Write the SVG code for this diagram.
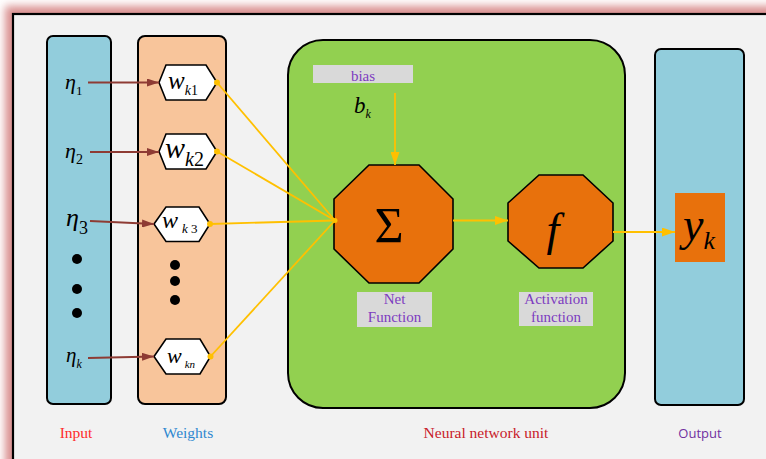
<svg xmlns="http://www.w3.org/2000/svg" width="766" height="459" viewBox="0 0 766 459">
  <defs>
    <filter id="glow" x="-10%" y="-10%" width="120%" height="120%">
      <feGaussianBlur stdDeviation="4"/>
    </filter>
    <marker id="arrBrown" markerWidth="12" markerHeight="8" refX="12" refY="4" orient="auto" markerUnits="userSpaceOnUse">
      <path d="M0,0 L12,4 L0,8 Z" fill="#8e3b34"/>
    </marker>
    <marker id="arrGold" markerWidth="13" markerHeight="9" refX="13" refY="4.5" orient="auto" markerUnits="userSpaceOnUse">
      <path d="M0,0 L13,4.5 L0,9 Z" fill="#ffc000"/>
    </marker>
  </defs>
  <style>
    .col { stroke: #000; stroke-width: 2; }
    .blue { fill: #92cddc; }
    .peach { fill: #f8c59b; }
    .hex { fill: #fff; stroke: #000; stroke-width: 1.6; }
    .oct { fill: #e8710c; stroke: #000; stroke-width: 1.6; }
    .tag { fill: #d9d9d9; }
    .math { font-family: "Liberation Serif", "DejaVu Serif", serif; font-style: italic; fill: #000; }
    .lbl { font-family: "Liberation Serif", "DejaVu Serif", serif; font-size: 15px; fill: #7d3cc0; text-anchor: middle; }
    .cap { font-family: "Liberation Serif", "DejaVu Serif", serif; font-size: 15.5px; text-anchor: middle; }
    .brown { stroke: #8e3b34; stroke-width: 1.8; fill: none; marker-end: url(#arrBrown); }
    .gold { stroke: #ffc000; stroke-width: 1.8; fill: none; }
    .dot { fill: #000; }
  </style>

  <!-- page background and framed panel with soft pink glow -->
  <rect x="0" y="0" width="766" height="459" fill="#ffffff"/>
  <rect x="5" y="6" width="780" height="480" fill="#d98f8f" filter="url(#glow)"/>
  <rect x="13" y="14" width="770" height="470" fill="#f2f2f2" stroke="#000" stroke-width="2.2"/>

  <!-- input column -->
  <g id="input">
    <rect class="col blue" x="47" y="36" width="64" height="368" rx="6"/>
    <text class="math" x="65" y="89" font-size="22">η<tspan font-size="13" font-style="normal" dy="6">1</tspan></text>
    <text class="math" x="65" y="158" font-size="22">η<tspan font-size="14" font-style="normal" dy="6">2</tspan></text>
    <text class="math" x="66" y="226" font-size="26">η<tspan font-size="18" font-style="normal" dy="8">3</tspan></text>
    <circle class="dot" cx="77" cy="259" r="5"/>
    <circle class="dot" cx="77" cy="289" r="5"/>
    <circle class="dot" cx="77" cy="313" r="5"/>
    <text class="math" x="66" y="362" font-size="21">η<tspan font-size="12" dy="6">k</tspan></text>
  </g>

  <!-- weights column -->
  <g id="weights">
    <rect class="col peach" x="138" y="36" width="88" height="368" rx="7"/>
    <circle class="dot" cx="175" cy="265" r="5"/>
    <circle class="dot" cx="175" cy="281" r="5"/>
    <circle class="dot" cx="175" cy="300" r="5"/>
  </g>
  <g id="w1">
    <polygon class="hex" points="159,82.5 166,65 206,65 217,82.5 206,100 166,100"/>
    <text class="math" x="168" y="89" font-size="25">w<tspan font-size="14" dy="6">k</tspan><tspan font-size="14" font-style="normal">1</tspan></text>
  </g>
  <g id="w2">
    <polygon class="hex" points="159,151.5 166,134 206,134 217,151.5 206,169 166,169"/>
    <text class="math" x="165" y="158" font-size="30">w<tspan font-size="20" dy="8">k</tspan><tspan font-size="20" font-style="normal">2</tspan></text>
  </g>
  <g id="w3">
    <polygon class="hex" points="154,224 166,207 199,207 210,224 199,241.5 166,241.5"/>
    <text class="math" x="162" y="228" font-size="24">w<tspan font-size="13" dx="4" dy="5">k</tspan><tspan font-size="13" font-style="normal"> 3</tspan></text>
  </g>
  <g id="wn">
    <polygon class="hex" points="154,356.5 166,339 200,339 210.5,356.5 200,374 166,374"/>
    <text class="math" x="167" y="363" font-size="22">w<tspan font-size="11" dx="3" dy="5">kn</tspan></text>
  </g>

  <!-- neural network unit -->
  <g id="unit">
    <rect class="col" x="288" y="40" width="337" height="368" rx="35" fill="#92d050"/>
  </g>
  <g id="bias">
    <rect class="tag" x="313" y="65" width="100" height="18"/>
    <text class="lbl" x="363" y="81">bias</text>
    <text class="math" x="354" y="113" font-size="23">b<tspan font-size="12" dy="5">k</tspan></text>
  </g>
  <g id="net-function">
    <polygon class="oct" points="369,165 419,165 453,199 453,249 419,283 369,283 334,249 334,199"/>
    <text x="389" y="242" font-family="'Liberation Serif', 'DejaVu Serif', serif" font-size="50" text-anchor="middle">Σ</text>
    <rect class="tag" x="357" y="292" width="75" height="35"/>
    <text class="lbl" x="394.5" y="304">Net</text>
    <text class="lbl" x="394.5" y="322">Function</text>
  </g>
  <g id="activation">
    <polygon class="oct" points="539,175 583,175 613,203 613,241 583,268 539,268 508,241 508,203"/>
    <text class="math" x="553" y="245" font-size="46" text-anchor="middle">f</text>
    <rect class="tag" x="519" y="292" width="74" height="34"/>
    <text class="lbl" x="556" y="304">Activation</text>
    <text class="lbl" x="556" y="322">function</text>
  </g>

  <!-- output column -->
  <g id="output">
    <rect class="col blue" x="655" y="49" width="89" height="356" rx="6"/>
    <rect x="675" y="193" width="50" height="69" fill="#e8710c"/>
    <text class="math" x="683" y="240" font-size="46">y<tspan font-size="26" dy="9">k</tspan></text>
  </g>

  <!-- connectors -->
  <g id="connectors">
    <line class="brown" x1="88" y1="82.5" x2="159" y2="82.5"/>
    <line class="brown" x1="90" y1="152" x2="159" y2="152"/>
    <line class="brown" x1="90" y1="221" x2="154" y2="224"/>
    <line class="brown" x1="88" y1="358" x2="154" y2="356.5"/>
    <line class="gold" x1="217" y1="82.5" x2="335" y2="220.5"/>
    <line class="gold" x1="217" y1="151.5" x2="335" y2="220.5"/>
    <line class="gold" x1="210" y1="224" x2="335" y2="220.5"/>
    <line class="gold" x1="210.5" y1="356.5" x2="335" y2="220.5"/>
    <circle cx="217" cy="82.5" r="3" fill="#ffc000"/>
    <circle cx="217" cy="151.5" r="3" fill="#ffc000"/>
    <circle cx="210" cy="224" r="3" fill="#ffc000"/>
    <circle cx="210.5" cy="356.5" r="3" fill="#ffc000"/>
    <circle cx="335" cy="220.5" r="2.5" fill="#ffc000"/>
    <line class="gold" x1="395" y1="93" x2="395" y2="165" marker-end="url(#arrGold)"/>
    <line class="gold" x1="453" y1="220.5" x2="508" y2="220.5" marker-end="url(#arrGold)"/>
    <line class="gold" x1="613" y1="232" x2="675" y2="232" marker-end="url(#arrGold)"/>
  </g>

  <!-- captions -->
  <g id="captions">
    <text class="cap" x="76" y="438" fill="#ff2a2a">Input</text>
    <text class="cap" x="188" y="438" fill="#2e88d0">Weights</text>
    <text class="cap" x="486" y="438" fill="#c8202a">Neural network unit</text>
    <text x="700" y="438" font-family="'Open Sans', 'Noto Sans', sans-serif" font-size="13" fill="#7030a0" text-anchor="middle">Output</text>
  </g>
</svg>
